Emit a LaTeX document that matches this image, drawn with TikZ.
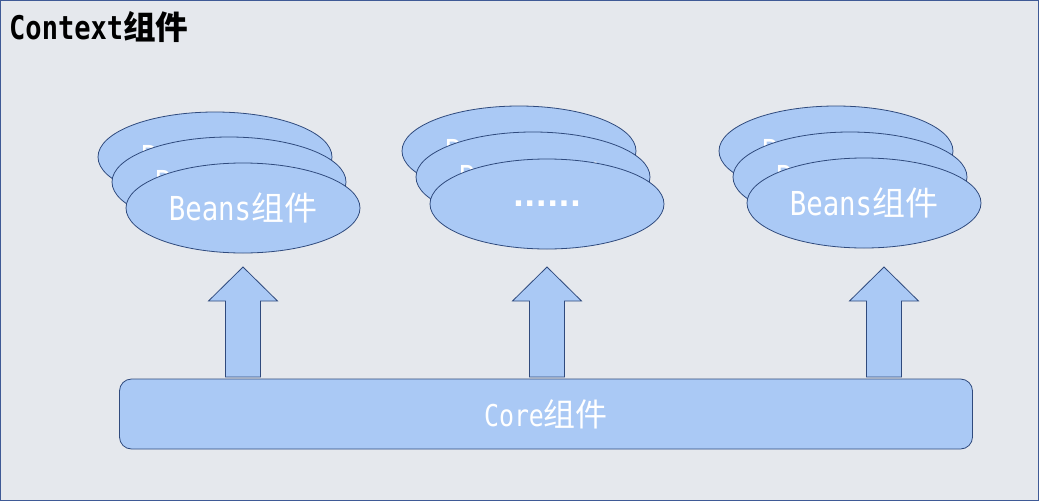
\documentclass[tikz,border=0pt]{standalone}
\usepackage{fontspec}
\usetikzlibrary{shapes.geometric}
\newfontfamily\monof[FakeStretch=0.83]{DejaVu Sans Mono}
\newfontfamily\dejaf{DejaVu Sans}
\newfontfamily\cjkf{Noto Sans CJK SC}
\definecolor{bgc}{RGB}{229,232,237}
\definecolor{fillc}{RGB}{170,201,245}
\definecolor{linec}{RGB}{47,74,125}
\definecolor{framec}{RGB}{63,90,150}
\tikzset{
  bean/.style={ellipse, draw=linec, fill=fillc, line width=0.8pt,
    minimum width=234pt, minimum height=90pt, inner sep=0pt, text=white,
    font=\fontsize{33}{33}\selectfont},
  blockarrow/.style={draw=linec, fill=fillc, line width=0.8pt, line join=miter},
  corebox/.style={draw=linec, fill=fillc, line width=0.8pt, rounded corners=12pt,
    minimum width=853pt, minimum height=70pt, inner sep=0pt, text=white,
    font=\fontsize{30}{30}\selectfont},
  title/.style={anchor=base west, inner sep=0pt, text=black,
    font=\fontsize{32.6}{32.6}\selectfont\bfseries}
}
\newcommand{\beantext}{{\monof Beans}{\cjkf\fontsize{33}{33}\selectfont 组件}}
\begin{document}
\begin{tikzpicture}[x=1pt,y=-1pt]
\useasboundingbox (0,0) rectangle (1039,501);
\draw[framec, fill=bgc, line width=1pt] (0.5,0.5) rectangle (1038.5,500.5);
\node[title] (ttl) at (9,39) {{\monof Context}{\cjkf\bfseries 组件}};
% left group
\node[bean] (l1) at (215,157) {\beantext};
\node[bean] (l2) at (229,182) {\beantext};
\node[bean] (l3) at (243,208) {\beantext};
% middle group
\node[bean] (m1) at (519,151) {\beantext};
\node[bean] (m2) at (533,177) {\beantext};
\node[bean] (m3) at (547,204) {{\dejaf\bfseries\fontsize{30}{30}\selectfont ......}};
% right group
\node[bean] (r1) at (836,151) {\beantext};
\node[bean] (r2) at (850,177) {\beantext};
\node[bean] (r3) at (864,203) {\beantext};
% arrows
\foreach \cx/\nm in {243/al, 547/am, 884/ar}{
  \draw[blockarrow] (\cx,267) coordinate (\nm) -- (\cx+34.5,301) -- (\cx+17.5,301) -- (\cx+17.5,377)
    -- (\cx-17.5,377) -- (\cx-17.5,301) -- (\cx-34.5,301) -- cycle;
}
% core
\node[corebox] (core) at (546,414) {{\monof Core}{\cjkf\fontsize{32}{32}\selectfont 组件}};
\end{tikzpicture}
\end{document}
